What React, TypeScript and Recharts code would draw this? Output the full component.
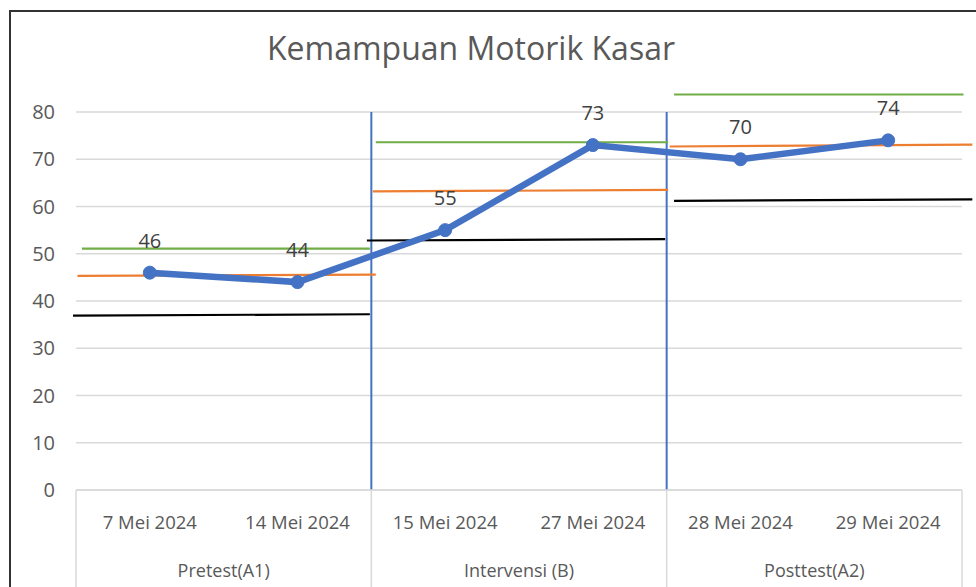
import {
  CartesianGrid,
  LabelList,
  Line,
  LineChart,
  ReferenceLine,
  XAxis,
  YAxis,
} from "recharts";

const dates = [
  "7 Mei 2024",
  "14 Mei 2024",
  "15 Mei 2024",
  "27 Mei 2024",
  "28 Mei 2024",
  "29 Mei 2024",
];
const scores = [46, 44, 55, 73, 70, 74];
const phases = ["Pretest(A1)", "Intervensi (B)", "Posttest(A2)"];
const phaseBounds = [0, 2, 4, 6];
const yTicks = [0, 10, 20, 30, 40, 50, 60, 70, 80];

// phase trend lines: [x1, y1, x2, y2]
const greenLines = [
  [0.04, 51.1, 1.99, 51.1],
  [2.03, 73.6, 4.01, 73.6],
  [4.05, 83.7, 6.01, 83.7],
];
const orangeLines = [
  [0.01, 45.3, 2.03, 45.6],
  [2.01, 63.2, 4.01, 63.5],
  [4.02, 72.7, 6.07, 73.1],
];
const blackLines = [
  [-0.02, 36.9, 1.99, 37.2],
  [1.97, 52.8, 3.99, 53.1],
  [4.05, 61.2, 6.07, 61.5],
];

const chartData = scores.map((score, i) => ({ x: i + 0.5, score }));
const axisTicks = [0, 0.5, 1, 1.5, 2, 2.5, 3, 3.5, 4, 4.5, 5, 5.5, 6];

const FONT = "'Open Sans', 'Noto Sans', sans-serif";

const TwoLevelTick = (props: any) => {
  const { x, y, payload } = props;
  const v = payload.value as number;
  if (phaseBounds.includes(v)) {
    return <line x1={x} x2={x} y1={y} y2={y + 100} stroke="#D9D9D9" strokeWidth={1.5} />;
  }
  if (Number.isInteger(v)) {
    return (
      <text x={x} y={y + 87} textAnchor="middle" fill="#595959" fontSize={18} fontFamily={FONT}>
        {phases[(v - 1) / 2]}
      </text>
    );
  }
  return (
    <text x={x} y={y + 39} textAnchor="middle" fill="#595959" fontSize={18.5} fontFamily={FONT}>
      {dates[Math.floor(v)]}
    </text>
  );
};

const segs = (lines: number[][], color: string, prefix: string) =>
  lines.map(([x1, y1, x2, y2], i) => (
    <ReferenceLine
      key={`${prefix}-${i}`}
      segment={[
        { x: x1, y: y1 },
        { x: x2, y: y2 },
      ]}
      stroke={color}
      strokeWidth={2.2}
      ifOverflow="visible"
    />
  ));

export default function App() {
  return (
    <div
      style={{
        position: "absolute",
        left: 0,
        top: 0,
        width: 976,
        height: 587,
        background: "#fff",
        overflow: "hidden",
        fontFamily: FONT,
      }}
    >
      <div
        style={{
          position: "absolute",
          left: 9,
          top: 10,
          width: 980,
          height: 600,
          borderLeft: "2.5px solid #333",
          borderTop: "2.5px solid #333",
        }}
      />
      <div
        style={{
          position: "absolute",
          left: 0,
          width: 942,
          top: 26,
          textAlign: "center",
          fontSize: 32,
          color: "#595959",
        }}
      >
        Kemampuan Motorik Kasar
      </div>
      <div style={{ position: "absolute", left: 0, top: 0 }}>
        <LineChart
          width={976}
          height={587}
          data={chartData}
          margin={{ top: 112, right: 14, bottom: 0, left: 0 }}
        >
          <CartesianGrid vertical={false} stroke="#D9D9D9" strokeWidth={1.5} />
          <XAxis
            dataKey="x"
            type="number"
            domain={[0, 6]}
            ticks={axisTicks}
            interval={0}
            height={97}
            tickSize={0}
            tickMargin={0}
            tickLine={false}
            axisLine={{ stroke: "#D9D9D9", strokeWidth: 1.5 }}
            tick={<TwoLevelTick />}
          />
          <YAxis
            type="number"
            domain={[0, 80]}
            ticks={yTicks}
            width={76}
            axisLine={false}
            tickLine={false}
            tickSize={0}
            tickMargin={21}
            tick={{ fill: "#595959", fontSize: 20, fontFamily: FONT }}
          />
          {phaseBounds.slice(1, 3).map((b) => (
            <ReferenceLine key={b} x={b} stroke="#4472C4" strokeWidth={2} />
          ))}
          {segs(greenLines, "#70AD47", "g")}
          {segs(orangeLines, "#ED7D31", "o")}
          {segs(blackLines, "#000000", "b")}
          <Line
            dataKey="score"
            stroke="#4472C4"
            strokeWidth={6.5}
            dot={{ r: 6.5, fill: "#4472C4", stroke: "#4472C4", strokeWidth: 1 }}
            isAnimationActive={false}
          >
            <LabelList
              dataKey="score"
              position="top"
              offset={25}
              fill="#404040"
              fontSize={20}
              fontFamily={FONT}
            />
          </Line>
        </LineChart>
      </div>
    </div>
  );
}
